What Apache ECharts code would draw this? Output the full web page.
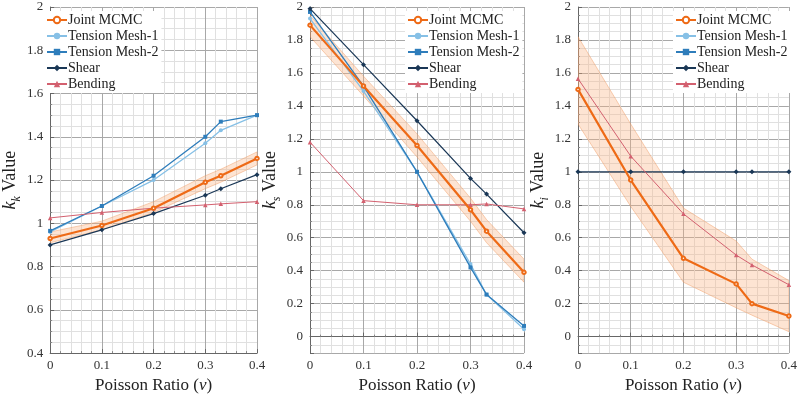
<!DOCTYPE html>
<html><head><meta charset="utf-8">
<script src="https://cdn.jsdelivr.net/npm/echarts@6/dist/echarts.min.js"></script>
<style>html,body{margin:0;padding:0;background:#fff}#c{width:800px;height:399px}</style>
</head><body><div id="c"></div>
<script>
// ---- data ----
const nu = [0, 0.1, 0.2, 0.3, 0.33, 0.4];
const xTicks = [0, 0.1, 0.2, 0.3, 0.4];
const seriesNames = ['Joint MCMC', 'Tension Mesh-1', 'Tension Mesh-2', 'Shear', 'Bending'];

// panel 1: k_k
const kkMcmc   = [0.93, 0.99, 1.07, 1.19, 1.22, 1.30];
const kkMcmcLo = [0.91, 0.97, 1.05, 1.16, 1.19, 1.27];
const kkMcmcHi = [0.96, 1.01, 1.10, 1.22, 1.25, 1.33];
const kkT1     = [0.96, 1.08, 1.20, 1.37, 1.43, 1.50];
const kkT2     = [0.965, 1.08, 1.22, 1.40, 1.47, 1.50];
const kkShear  = [0.90, 0.97, 1.045, 1.13, 1.16, 1.225];
const kkBend   = [1.025, 1.05, 1.07, 1.085, 1.09, 1.10];

// panel 2: k_s
const ksMcmc   = [1.89, 1.52, 1.16, 0.77, 0.64, 0.39];
const ksMcmcLo = [1.82, 1.46, 1.09, 0.70, 0.57, 0.33];
const ksMcmcHi = [1.95, 1.58, 1.23, 0.84, 0.71, 0.47];
const ksT1     = [1.93, 1.49, 1.00, 0.44, 0.255, 0.045];
const ksT2     = [1.97, 1.52, 1.00, 0.42, 0.255, 0.065];
const ksShear  = [1.99, 1.65, 1.31, 0.96, 0.865, 0.63];
const ksBend   = [1.18, 0.825, 0.80, 0.80, 0.805, 0.775];

// panel 3: k_i
const kiMcmc   = [1.50, 0.95, 0.475, 0.32, 0.20, 0.125];
const kiMcmcLo = [1.29, 0.79, 0.33, 0.175, 0.13, 0.03];
const kiMcmcHi = [1.82, 1.29, 0.78, 0.58, 0.47, 0.34];
const kiT1     = [];
const kiT2     = [];
const kiShear  = [1, 1, 1, 1, 1, 1];
const kiBend   = [1.565, 1.095, 0.745, 0.495, 0.435, 0.315];

// ---- styling ----
const FONT = 'Liberation Serif';
const colors = {
  'Joint MCMC': '#EE6A16',
  'Tension Mesh-1': '#86C0E6',
  'Tension Mesh-2': '#2E7DBB',
  'Shear': '#1A3756',
  'Bending': '#D3606F'
};
const symbols = {
  'Joint MCMC': 'emptyCircle',
  'Tension Mesh-1': 'circle',
  'Tension Mesh-2': 'rect',
  'Shear': 'diamond',
  'Bending': 'triangle'
};
const widths = {'Joint MCMC': 2.2, 'Tension Mesh-1': 1.3, 'Tension Mesh-2': 1.3, 'Shear': 1.2, 'Bending': 1};
const sizes = {'Joint MCMC': 3.5, 'Tension Mesh-1': 4, 'Tension Mesh-2': 4, 'Shear': 5, 'Bending': 4.5};

const panels = [
  {left: 43, yMin: 0.4, yMax: 2, sub: 'k', legendLeft: 44,
   lo: kkMcmcLo, hi: kkMcmcHi,
   data: {'Joint MCMC': kkMcmc, 'Tension Mesh-1': kkT1, 'Tension Mesh-2': kkT2, 'Shear': kkShear, 'Bending': kkBend}},
  {left: 310, yMin: -0.1, yMax: 2, sub: 's', legendLeft: 405,
   lo: ksMcmcLo, hi: ksMcmcHi,
   data: {'Joint MCMC': ksMcmc, 'Tension Mesh-1': ksT1, 'Tension Mesh-2': ksT2, 'Shear': ksShear, 'Bending': ksBend}},
  {left: 578, yMin: -0.1, yMax: 2, sub: 'i', legendLeft: 673,
   lo: kiMcmcLo, hi: kiMcmcHi,
   data: {'Joint MCMC': kiMcmc, 'Tension Mesh-1': kiT1, 'Tension Mesh-2': kiT2, 'Shear': kiShear, 'Bending': kiBend}}
];

const grids = [], xAxes = [], yAxes = [], series = [], legends = [];
const drawOrder = ['Tension Mesh-1', 'Tension Mesh-2', 'Shear', 'Bending', 'Joint MCMC'];

panels.forEach((p, k) => {
  grids.push({left: p.left, top: 7, width: 214, height: 349, containLabel: false});
  xAxes.push({
    type: 'value', gridIndex: k, min: 0, max: 0.4, interval: 0.1,
    name: '{a|Poisson Ratio (}{i|ν}{a|)}', nameLocation: 'middle', nameGap: 17,
    nameTextStyle: {rich: {a: {fontFamily: FONT, fontSize: 17, color: '#222'}, i: {fontFamily: FONT, fontSize: 17, fontStyle: 'italic', color: '#222'}}},
    axisLine: {show: true, lineStyle: {color: '#666', width: 1}},
    axisTick: {show: true, inside: true, length: 4, lineStyle: {color: '#666'}},
    minorTick: {show: true, splitNumber: 5, length: 2, lineStyle: {color: '#888'}},
    axisLabel: {fontFamily: FONT, fontSize: 13, color: '#333', margin: 6,
      formatter: v => (xTicks.some(t => Math.abs(t - v) < 1e-9) ? String(+v.toFixed(2)) : '')},
    splitLine: {show: true, lineStyle: {color: '#a8a8a8', width: 1}},
    minorSplitLine: {show: true, lineStyle: {color: '#e0e0e0', width: 1}}
  });
  const yAx = {
    type: 'value', gridIndex: k, min: p.yMin, max: p.yMax,
    name: '{i|k}{s|' + p.sub + '}{a| Value}', nameLocation: 'middle', nameGap: 29,
    nameTextStyle: {rich: {
      a: {fontFamily: FONT, fontSize: 18, color: '#222', lineHeight: 22, verticalAlign: 'bottom'},
      i: {fontFamily: FONT, fontSize: 18, fontStyle: 'italic', color: '#222', lineHeight: 22, verticalAlign: 'bottom'},
      s: {fontFamily: FONT, fontSize: 12, fontStyle: 'italic', color: '#222', lineHeight: 14, verticalAlign: 'bottom', padding: [0, 0, -4, 0]}
    }},
    axisLine: {show: true, lineStyle: {color: '#666', width: 1}},
    axisTick: {show: true, inside: true, length: 4, lineStyle: {color: '#666'}},
    minorTick: {show: true, splitNumber: 4, length: 2, lineStyle: {color: '#888'}},
    axisLabel: {fontFamily: FONT, fontSize: 13, color: '#333', margin: 7,
      formatter: v => (v < -0.05 ? '' : String(+v.toFixed(2)))},
    splitLine: {show: true, lineStyle: {color: '#a8a8a8', width: 1}},
    minorSplitLine: {show: true, lineStyle: {color: '#e0e0e0', width: 1}}
  };
  if (p.yMin === 0.4) { yAx.interval = 0.2; } else { yAx.splitNumber = 10; yAx.nameGap = 31; }
  yAxes.push(yAx);

  // uncertainty band
  const bandRows = nu.map((x, i) => [x, p.lo[i], p.hi[i]]);
  series.push({
    type: 'custom', xAxisIndex: k, yAxisIndex: k, silent: true, z: 1, clip: true,
    data: bandRows, encode: {x: 0, y: [1, 2]},
    renderItem: (params, api) => {
      if (params.dataIndex !== 0) return null;
      const upper = bandRows.map(r => api.coord([r[0], r[2]]));
      const lower = bandRows.map(r => api.coord([r[0], r[1]])).reverse();
      return {type: 'polygon', shape: {points: upper.concat(lower)},
        style: {fill: 'rgba(249,178,128,0.35)', stroke: 'rgba(240,150,90,0.55)', lineWidth: 0.8}};
    }
  });

  drawOrder.forEach((name, j) => {
    const vals = p.data[name];
    series.push({
      name, type: 'line', xAxisIndex: k, yAxisIndex: k, z: 3 + j,
      data: vals.map((v, i) => [nu[i], v]),
      symbol: symbols[name], symbolSize: sizes[name],
      showSymbol: true,
      lineStyle: {color: colors[name], width: widths[name]},
      itemStyle: {color: colors[name], borderColor: colors[name], borderWidth: name === 'Joint MCMC' ? 1 : 0},
      animation: false
    });
  });

  legends.push({
    data: seriesNames, orient: 'vertical', left: p.legendLeft, top: 11,
    itemWidth: 20, itemHeight: 8, itemGap: 2,
    backgroundColor: '#fff', padding: [2, 3, 2, 2],
    textStyle: {fontFamily: FONT, fontSize: 14, color: '#222', padding: [0, 0, 0, -4]},
    selectedMode: false
  });
});

const chart = echarts.init(document.getElementById('c'), null, {renderer: 'canvas'});
chart.setOption({
  animation: false,
  backgroundColor: '#fff',
  color: seriesNames.map(n => colors[n]),
  grid: grids, xAxis: xAxes, yAxis: yAxes, series, legend: legends
});
</script></body></html>
